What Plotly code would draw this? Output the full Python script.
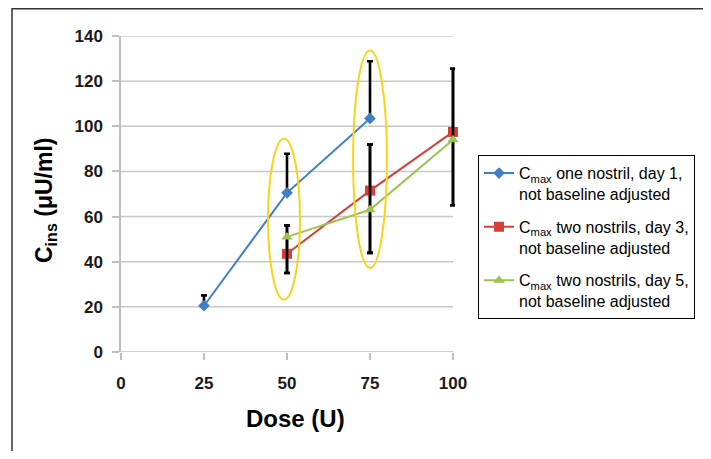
import plotly.graph_objects as go

# ---- data ----
dose_day1 = [25, 50, 75]
cmax_day1 = [20.5, 70.5, 103.5]
err_day1_plus = [4.6, 17.3, 25.3]
err_day1_minus = [0, 0, 0]

dose_day3 = [50, 75, 100]
cmax_day3 = [43.5, 71.5, 97.5]
err_day3_plus = [12.6, 20.4, 28.0]
err_day3_minus = [8.5, 27.6, 32.5]

dose_day5 = [50, 75, 100]
cmax_day5 = [51.0, 63.0, 94.0]
err_day5_plus = [5.1, 28.9, 31.5]
err_day5_minus = [16.0, 19.1, 29.0]

x_ticks = [0, 25, 50, 75, 100]
y_ticks = [0, 20, 40, 60, 80, 100, 120, 140]

names = [
    "C<sub>max</sub> one nostril, day 1,<br>not baseline adjusted",
    "C<sub>max</sub> two nostrils, day 3,<br>not baseline adjusted",
    "C<sub>max</sub> two nostrils, day 5,<br>not baseline adjusted",
]
colors = ["#3F7FC4", "#D43F3A", "#9BC34E"]

x_title = "<b>Dose (U)</b>"
y_title = "<b>C<sub>ins</sub> (μU/ml)</b>"

# highlight ellipses (dose range, concentration range)
highlights = [
    (44.3, 53.9, 23.2, 94.5),
    (69.9, 80.1, 37.2, 133.6),
]

fig = go.Figure()

err_style = dict(color="black", thickness=2.6, width=3)

fig.add_trace(go.Scatter(
    x=dose_day1, y=cmax_day1, name=names[0], mode="lines+markers",
    legendgroup="g1",
    line=dict(color=colors[0], width=2),
    marker=dict(symbol="diamond", size=9, color=colors[0]),
    error_y=dict(type="data", symmetric=False, array=err_day1_plus,
                 arrayminus=err_day1_minus, **err_style),
    cliponaxis=False,
))
fig.add_trace(go.Scatter(
    x=dose_day3, y=cmax_day3, name=names[1], mode="lines+markers",
    legendgroup="g2",
    line=dict(color=colors[1], width=2),
    marker=dict(symbol="square", size=10, color=colors[1]),
    error_y=dict(type="data", symmetric=False, array=err_day3_plus,
                 arrayminus=err_day3_minus, **err_style),
    cliponaxis=False,
))
fig.add_trace(go.Scatter(
    x=dose_day5, y=cmax_day5, name=names[2], mode="lines+markers",
    legendgroup="g3",
    line=dict(color=colors[2], width=2),
    marker=dict(symbol="triangle-up", size=10, color=colors[2]),
    error_y=dict(type="data", symmetric=False, array=err_day5_plus,
                 arrayminus=err_day5_minus, **err_style),
    cliponaxis=False,
))

for (x0, x1, y0, y1) in highlights:
    fig.add_shape(type="circle", xref="x", yref="y", x0=x0, x1=x1, y0=y0, y1=y1,
                  line=dict(color="#F7D417", width=2))

# plot area: 334 px wide so that dose 100 sits at 332 px and its error bar is not clipped
PW = 334.0
PH = 316.0

# outer frame
fig.add_shape(type="rect", xref="paper", yref="paper",
              x0=-109 / PW, x1=586.5 / PW, y0=-0.5, y1=343.3 / PH,
              line=dict(color="#333333", width=1.5), layer="below")

fig.add_annotation(text=x_title, xref="paper", yref="paper",
                   x=174 / PW, y=-66 / PH, xanchor="center", yanchor="middle",
                   showarrow=False, font=dict(size=24, color="black"))
fig.add_annotation(text=y_title, xref="paper", yref="paper",
                   x=-76 / PW, y=152 / PH, xanchor="center", yanchor="middle",
                   textangle=-90, showarrow=False, font=dict(size=23, color="black"))

fig.update_layout(
    width=703, height=443,
    margin=dict(l=113, r=256, t=28, b=99),
    paper_bgcolor="white", plot_bgcolor="white",
    font=dict(family="Liberation Sans, Arial, sans-serif", color="black"),
    showlegend=True,
    legend=dict(
        x=357 / PW, y=0.623, xanchor="left", yanchor="top",
        bordercolor="black", borderwidth=1, bgcolor="white",
        font=dict(size=16, color="black"),
        valign="top", itemwidth=30,
        traceorder="grouped", tracegroupgap=9,
    ),
    xaxis=dict(
        range=[0, 100 * PW / 332.0], tickvals=x_ticks, ticktext=[str(t) for t in x_ticks],
        showgrid=False, zeroline=False,
        showline=False,
        ticks="outside", ticklen=7, tickcolor="#BFBFBF", tickwidth=1.5,
        ticklabelstandoff=9,
        tickfont=dict(size=17, color="#1a1a1a", family="Liberation Sans, Arial, sans-serif", weight="bold"),
    ),
    yaxis=dict(
        range=[0, 140], tickvals=y_ticks,
        showgrid=False,
        zeroline=False,
        showline=True, linecolor="#BFBFBF", linewidth=1.5,
        ticks="outside", ticklen=7, tickcolor="#BFBFBF", tickwidth=1.5,
        ticklabelstandoff=6,
        tickfont=dict(size=17, color="#1a1a1a", family="Liberation Sans, Arial, sans-serif", weight="bold"),
    ),
)

# horizontal gridlines (and the x axis line at 0) ending at dose 100
for yv in y_ticks:
    fig.add_shape(type="line", xref="x", yref="y", x0=0, x1=100, y0=yv, y1=yv,
                  line=dict(color="#C8C8C8" if yv else "#BFBFBF", width=1.5), layer="below")

fig.write_html("out.html")
